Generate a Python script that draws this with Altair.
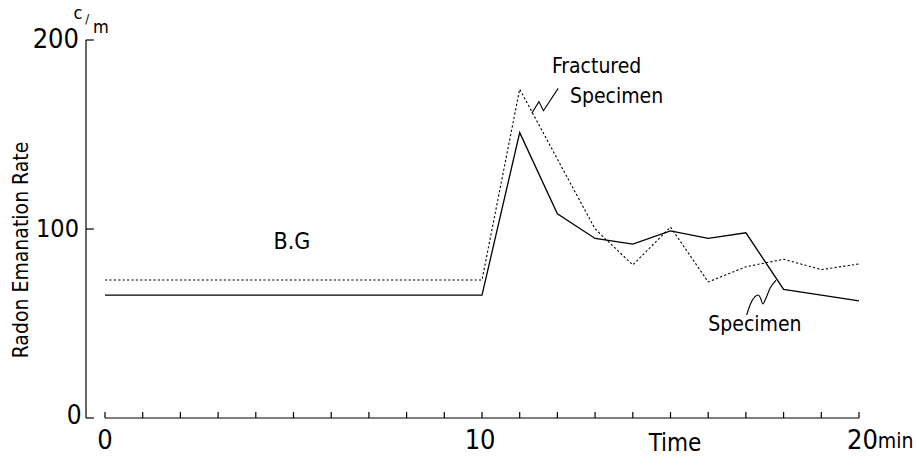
import altair as alt
import pandas as pd

# ---- data ----
specimen_t = [0, 10, 11, 12, 13, 14, 15, 16, 17, 18, 19, 20]
specimen_v = [65, 65, 151, 108, 95, 92, 99, 95, 98, 68, 65, 62]

fractured_t = [0, 10, 11, 13, 14, 15, 16, 17, 18, 19, 20]
fractured_v = [73, 73, 174, 100, 81, 101, 72, 80, 84, 78.5, 81.5]

x_ticks = list(range(0, 21))
y_ticks = [0, 100, 200]

# annotation leader squiggles (data coordinates)
lead_frac_t = [11.32, 11.51, 11.63, 12.02]
lead_frac_v = [161.2, 167.4, 162.6, 174.4]
lead_spec_t = [17.80, 17.64, 17.51, 17.45, 17.39, 17.33, 17.24, 17.11, 17.02]
lead_spec_v = [73.0, 68.6, 62.4, 60.3, 63.3, 65.1, 64.2, 59.8, 54.5]

FONT = "Liberation Sans Narrow, DejaVu Sans Condensed, Roboto, Liberation Sans"
X0 = -0.504
XS = alt.Scale(domain=[X0, 20], nice=False, zero=False)
YS = alt.Scale(domain=[0, 200], nice=False, zero=False)
X_TICK_LEN = 3.2      # value units (~6 px)
Y_TICK_LEN = 0.21     # minutes (~8 px)


def X(f="t"):
    return alt.X(f"{f}:Q", scale=XS, axis=None)


def Y(f="v"):
    return alt.Y(f"{f}:Q", scale=YS, axis=None)


spec_df = pd.DataFrame({"t": specimen_t, "v": specimen_v})
frac_df = pd.DataFrame({"t": fractured_t, "v": fractured_v})
lf_df = pd.DataFrame({"t": lead_frac_t, "v": lead_frac_v, "o": range(len(lead_frac_t))})
ls_df = pd.DataFrame({"t": lead_spec_t, "v": lead_spec_v, "o": range(len(lead_spec_t))})

# hand-drawn axes (ticks point inward)
rules = [dict(t=X0, t2=X0, v=0, v2=200), dict(t=0, t2=20, v=0, v2=0)]
rules += [dict(t=X0, t2=X0 + Y_TICK_LEN, v=k, v2=k) for k in y_ticks]
rules += [dict(t=k, t2=k, v=0, v2=X_TICK_LEN) for k in x_ticks]
rules_df = pd.DataFrame(rules)

spec_line = alt.Chart(spec_df).mark_line(color="black", strokeWidth=1.3).encode(x=X(), y=Y())
frac_line = alt.Chart(frac_df).mark_line(color="black", strokeWidth=1.1, strokeDash=[2.2, 2.2]).encode(x=X(), y=Y())
lead1 = alt.Chart(lf_df).mark_line(color="black", strokeWidth=1.1).encode(x=X(), y=Y(), order="o:Q")
lead2 = alt.Chart(ls_df).mark_line(color="black", strokeWidth=1.1, interpolate="monotone").encode(
    x=X(), y=Y(), order="o:Q")
axes = alt.Chart(rules_df).mark_rule(color="black", strokeWidth=1.2).encode(
    x=X("t"), x2="t2:Q", y=Y("v"), y2="v2:Q")

# text labels: (text, t, v, size, align, angle)
label_rows = [
    ("200", -0.69, 200, 27, "right", 0),
    ("100", -0.69, 100, 25, "right", 0),
    ("0", -0.62, 0.8, 26, "right", 0),
    ("c", -0.72, 213.8, 18, "center", 0),
    ("/", -0.47, 211.0, 13, "center", 0),
    ("m", -0.11, 206.3, 18, "center", 0),
    ("0", 0, -12.2, 27, "center", 0),
    ("10", 9.95, -12.2, 27, "center", 0),
    ("20", 19.68, -12.2, 27, "left", 0),
    ("min", 20.50, -12.6, 21, "left", 0),
    ("Time", 15.12, -13.8, 24, "center", 0),
    ("Radon Emanation Rate", -2.2, 88.9, 21, "center", 270),
    ("B.G", 4.96, 93.1, 23, "center", 0),
    ("Fractured", 13.04, 185.7, 21, "center", 0),
    ("Specimen", 13.57, 169.8, 21, "center", 0),
    ("Specimen", 17.24, 49.2, 21, "center", 0),
]
lab_df = pd.DataFrame(label_rows, columns=["text", "t", "v", "size", "align", "angle"])

label_layers = []
for al in ["center", "right", "left"]:
    sub = lab_df[lab_df["align"] == al]
    label_layers.append(
        alt.Chart(sub).mark_text(font=FONT, align=al, baseline="middle", color="black").encode(
            x=X(), y=Y(), text="text:N",
            size=alt.Size("size:Q", scale=None, legend=None),
            angle=alt.Angle("angle:Q", scale=None, legend=None),
        )
    )

chart = alt.layer(
    frac_line, spec_line, lead1, lead2, axes, *label_layers,
).properties(
    width=773, height=378,
    padding={"left": 86, "top": 40, "right": 58, "bottom": 40},
    autosize=alt.AutoSizeParams(type="none"),
    background="white",
).configure_view(stroke=None)

chart.save("out.html", embed_options={"renderer": "svg", "actions": False})
